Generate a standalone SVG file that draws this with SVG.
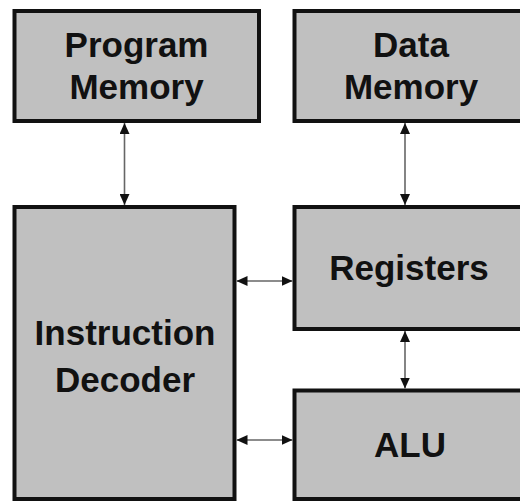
<svg xmlns="http://www.w3.org/2000/svg" width="520" height="502" viewBox="0 0 520 502">
  <defs>
    <marker id="ah" markerUnits="userSpaceOnUse" markerWidth="11" markerHeight="10" refX="11" refY="5" orient="auto-start-reverse">
      <path d="M0,0 L11,5 L0,10 z" fill="#111"/>
    </marker>
    <style>
      .box { fill: #c0c0c0; stroke: #111; stroke-width: 4; }
      .lbl { font-family: "Liberation Sans", Arial, sans-serif; font-weight: bold; font-size: 35px; fill: #111; text-anchor: middle; }
      .conn { stroke: #666; stroke-width: 1.6; fill: none; marker-start: url(#ah); marker-end: url(#ah); }
    </style>
  </defs>
  <rect width="520" height="502" fill="#fff"/>
  <g id="program-memory">
    <rect class="box" x="14.5" y="11" width="244.5" height="110"/>
    <text class="lbl" x="136.5" y="56.5">Program</text>
    <text class="lbl" x="136.5" y="99">Memory</text>
  </g>
  <g id="data-memory">
    <rect class="box" x="294.5" y="11" width="240" height="110"/>
    <text class="lbl" x="411" y="56.5">Data</text>
    <text class="lbl" x="411" y="99">Memory</text>
  </g>
  <g id="instruction-decoder">
    <rect class="box" x="14.5" y="207" width="220" height="292"/>
    <text class="lbl" x="125" y="344.5">Instruction</text>
    <text class="lbl" x="125" y="391.5">Decoder</text>
  </g>
  <g id="registers">
    <rect class="box" x="294.5" y="207" width="240" height="122"/>
    <text class="lbl" x="409" y="280">Registers</text>
  </g>
  <g id="alu">
    <rect class="box" x="294.5" y="390.5" width="240" height="108.5"/>
    <text class="lbl" x="410" y="456.5">ALU</text>
  </g>
  <g id="connectors">
    <line class="conn" x1="124.5" y1="123" x2="124.5" y2="205"/>
    <line class="conn" x1="405" y1="123" x2="405" y2="205"/>
    <line class="conn" x1="405" y1="331" x2="405" y2="388.5"/>
    <line class="conn" x1="236.5" y1="281" x2="292.5" y2="281"/>
    <line class="conn" x1="236.5" y1="440" x2="292.5" y2="440"/>
  </g>
</svg>
